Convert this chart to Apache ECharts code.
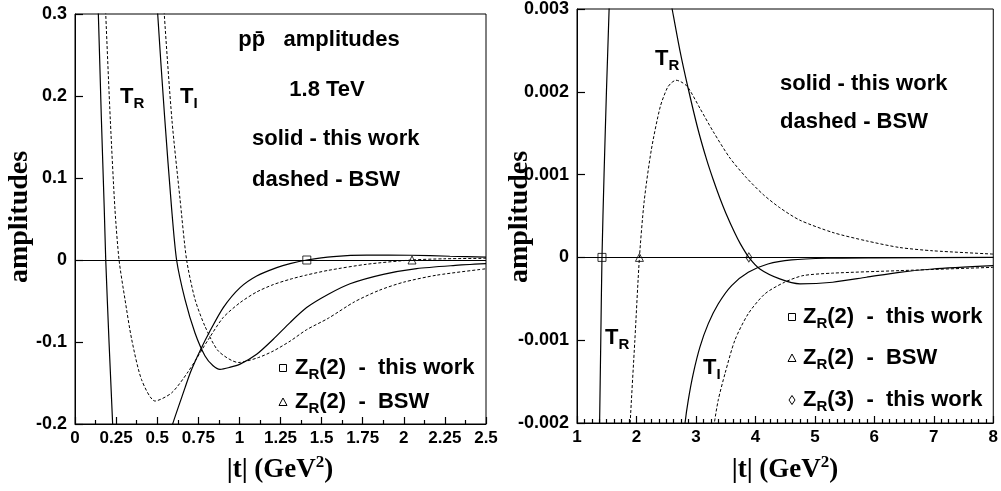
<!DOCTYPE html>
<html>
<head>
<meta charset="utf-8">
<title>pp amplitudes</title>
<script src="https://cdn.jsdelivr.net/npm/echarts@6.0.0/dist/echarts.min.js"></script>
<style>
  html, body { margin: 0; padding: 0; background: #fff; }
  #chart { width: 1001px; height: 491px; }
</style>
</head>
<body>
<div id="chart"></div>
<script>
// left panel, |t| 0 - 2.5
const trThisL1 = [[0.13, 0.36], [0.142, 0.30], [0.16, 0.175], [0.178, 0.062], [0.187, 0], [0.207, -0.1], [0.229, -0.2], [0.238, -0.25]]
const trThisL2 = [[0.56, -0.225], [0.594, -0.2], [0.669, -0.156], [0.70, -0.138], [0.76, -0.111], [0.821, -0.0866], [0.902, -0.058], [1.004, -0.0337], [1.105, -0.0195], [1.227, -0.0093], [1.308, -0.0044], [1.41, 0], [1.571, 0.0042], [1.774, 0.006], [2.04, 0.0058], [2.28, 0.0046], [2.5, 0.0036]]
const tiThisL = [[0.495, 0.34], [0.503, 0.30], [0.545, 0.175], [0.588, 0.062], [0.618, 0], [0.669, -0.048], [0.73, -0.089], [0.791, -0.117], [0.84, -0.129], [0.882, -0.1333], [0.94, -0.131], [1.004, -0.127], [1.105, -0.115], [1.206, -0.0967], [1.308, -0.0763], [1.409, -0.058], [1.541, -0.0418], [1.673, -0.029], [1.875, -0.0175], [2.078, -0.0105], [2.3, -0.0068], [2.5, -0.0045]]
const trBswL = [[0.18, 0.34], [0.187, 0.30], [0.215, 0.17], [0.243, 0.062], [0.268, 0], [0.304, -0.048], [0.345, -0.097], [0.405, -0.146], [0.487, -0.172], [0.588, -0.162], [0.689, -0.136], [0.811, -0.097], [0.902, -0.07], [1.004, -0.052], [1.105, -0.039], [1.206, -0.03], [1.308, -0.0235], [1.409, -0.0183], [1.541, -0.0126], [1.774, -0.0052], [2.048, 0], [2.25, 0.0015], [2.5, 0.002]]
const tiBswL = [[0.535, 0.34], [0.543, 0.30], [0.59, 0.17], [0.639, 0.074], [0.679, 0], [0.73, -0.048], [0.791, -0.081], [0.872, -0.111], [0.994, -0.125], [1.115, -0.119], [1.206, -0.111], [1.308, -0.099], [1.409, -0.085], [1.541, -0.071], [1.7, -0.051], [1.85, -0.037], [2.0, -0.027], [2.2, -0.0185], [2.5, -0.0107]]
const zeroThisL = [[1.41, 0]]
const zeroBswL = [[2.05, 0]]

// right panel, |t| 1 - 8
const trThisR1 = [[1.37, -0.0025], [1.38, -0.002], [1.4, -0.001], [1.42, 0], [1.455, 0.001], [1.495, 0.002], [1.54, 0.003], [1.555, 0.0034]]
const trThisR2 = [[2.55, 0.0032], [2.6, 0.003], [2.73, 0.0025], [2.86, 0.00207], [3.03, 0.00156], [3.18, 0.00118], [3.29, 0.00094], [3.4, 0.00072], [3.5, 0.00054], [3.65, 0.0003], [3.75, 0.00016], [3.89, 0], [4.075, -0.00014], [4.41, -0.00026], [4.75, -0.00032], [5.3, -0.0003], [5.865, -0.00024], [6.42, -0.00018], [6.98, -0.00014], [8, -0.0001]]
const tiThisR = [[2.8, -0.0022], [2.817, -0.002], [2.872, -0.00172], [2.956, -0.0014], [3.068, -0.00108], [3.208, -0.0008], [3.376, -0.00056], [3.6, -0.00034], [3.88, -0.00018], [4.21, -0.00008], [4.61, -0.00003], [5.2, -0.00001], [6, -0.000005], [8, 0]]
const trBswR = [[1.88, -0.0023], [1.894, -0.002], [1.973, -0.001], [2.05, 0], [2.13, 0.00068], [2.25, 0.0013], [2.4, 0.00182], [2.52, 0.00205], [2.59, 0.00211], [2.665, 0.00214], [2.75, 0.00212], [2.86, 0.00206], [3.068, 0.0018], [3.29, 0.00152], [3.572, 0.0012], [3.852, 0.00096], [4.13, 0.00076], [4.41, 0.0006], [4.746, 0.00045], [5.305, 0.0003], [5.865, 0.0002], [6.42, 0.00012], [6.98, 0.00008], [8, 0.00004]]
const tiBswR = [[3.3, -0.0021], [3.31, -0.002], [3.376, -0.00172], [3.49, -0.0014], [3.655, -0.001], [3.88, -0.00068], [4.16, -0.00044], [4.49, -0.0003], [4.8, -0.00022], [5.3, -0.00019], [6.42, -0.00016], [8, -0.00012]]
const zeroThisR2 = [[1.42, 0]]
const zeroBswR = [[2.05, 0]]
const zeroThisR3 = [[3.89, 0]]

const SANS = '"Liberation Sans", Arial, Helvetica, sans-serif'
const SERIF = '"Liberation Serif", "Times New Roman", serif'

function curve(data, gi, dashed) {
  return {
    type: 'line',
    xAxisIndex: gi,
    yAxisIndex: gi,
    data: data,
    symbol: 'none',
    smooth: 0.25,
    clip: true,
    silent: true,
    lineStyle: dashed
      ? { color: '#000', width: 1, type: [3, 2] }
      : { color: '#000', width: 1.2, type: 'solid' },
    z: 3
  }
}

function zeroLine(gi) {
  return {
    type: 'line',
    xAxisIndex: gi,
    yAxisIndex: gi,
    data: [],
    silent: true,
    markLine: {
      silent: true,
      symbol: ['none', 'none'],
      label: { show: false },
      lineStyle: { color: '#000', width: 1, type: 'solid' },
      data: [{ yAxis: 0 }]
    }
  }
}

function marker(data, gi, symbol, size) {
  return {
    type: 'scatter',
    xAxisIndex: gi,
    yAxisIndex: gi,
    data: data,
    symbol: symbol,
    symbolSize: size,
    silent: true,
    itemStyle: { color: 'rgba(0,0,0,0)', borderColor: '#000', borderWidth: 1 },
    z: 5
  }
}

function xAxis(gi, min, max, interval, minorSplit, fmt) {
  return {
    gridIndex: gi,
    type: 'value',
    min: min,
    max: max,
    interval: interval,
    axisLine: { onZero: false, lineStyle: { color: '#000' } },
    axisTick: { show: true, inside: true, length: 7, lineStyle: { color: '#000', width: 1.2 } },
    minorTick: { show: true, splitNumber: minorSplit, length: 4, lineStyle: { color: '#000', width: 1.2 } },
    splitLine: { show: false },
    axisLabel: {
      color: '#000', fontWeight: 'bold', fontSize: 17, fontFamily: SANS, margin: 6,
      formatter: fmt
    }
  }
}

function yAxis(gi, min, max, interval, fmt) {
  return {
    gridIndex: gi,
    type: 'value',
    min: min,
    max: max,
    interval: interval,
    axisLine: { show: true, onZero: false, lineStyle: { color: '#000' } },
    axisTick: { show: true, inside: true, length: 8, lineStyle: { color: '#000', width: 1.2 } },
    splitLine: { show: false },
    axisLabel: {
      color: '#000', fontWeight: 'bold', fontSize: 18, fontFamily: SANS, margin: 8,
      formatter: fmt
    }
  }
}

const rich = {
  m: { fontFamily: SANS, fontWeight: 'bold', fontSize: 22, lineHeight: 28, color: '#000' },
  s: { fontFamily: SANS, fontWeight: 'bold', fontSize: 15, lineHeight: 15, verticalAlign: 'bottom', color: '#000' }
}
const richTitle = {
  m: { fontFamily: SERIF, fontWeight: 'bold', fontSize: 27, lineHeight: 32, color: '#000' },
  p: { fontFamily: SERIF, fontWeight: 'bold', fontSize: 17, lineHeight: 17, verticalAlign: 'top', color: '#000' }
}

function label(x, y, text, align) {
  return {
    type: 'text', x: x, y: y, z: 10, silent: true,
    style: { text: text, rich: rich, align: align || 'left', verticalAlign: 'middle' }
  }
}

function plain(x, y, text, align) {
  return {
    type: 'text', x: x, y: y, z: 10, silent: true,
    style: {
      text: text, align: align || 'left', verticalAlign: 'middle',
      font: 'bold 22px ' + SANS, fill: '#000'
    }
  }
}

function tTitle(x) {
  return {
    type: 'text', x: x, y: 470, z: 10, silent: true,
    style: { text: '{m||t| (GeV}{p|2}{m|)}', rich: richTitle, align: 'center', verticalAlign: 'middle' }
  }
}

function yTitle(x) {
  return {
    type: 'text', x: x, y: 217, z: 10, silent: true, rotation: Math.PI / 2,
    style: {
      text: 'amplitudes', align: 'center', verticalAlign: 'middle',
      font: 'bold 28px ' + SERIF, fill: '#000'
    }
  }
}

function box(x, y) {
  return {
    type: 'rect', z: 10, silent: true,
    shape: { x: x - 3.5, y: y - 3.5, width: 7, height: 7 },
    style: { fill: 'none', stroke: '#000', lineWidth: 1 }
  }
}
function tri(x, y) {
  return {
    type: 'polygon', z: 10, silent: true,
    shape: { points: [[x, y - 4], [x + 4, y + 3.5], [x - 4, y + 3.5]] },
    style: { fill: 'none', stroke: '#000', lineWidth: 1 }
  }
}
function dia(x, y) {
  return {
    type: 'polygon', z: 10, silent: true,
    shape: { points: [[x, y - 4.5], [x + 3, y], [x, y + 4.5], [x - 3, y]] },
    style: { fill: 'none', stroke: '#000', lineWidth: 1 }
  }
}

const fmtNum = function(v) { return String(+v.toFixed(3)) }

const chart = echarts.init(document.getElementById('chart'), null, { renderer: 'canvas' })
chart.setOption({
  backgroundColor: '#fff',
  animation: false,
  grid: [
    { left: 75, top: 14, width: 411, height: 410, show: true, borderColor: '#000', borderWidth: 1 },
    { left: 577, top: 7, width: 417, height: 416, show: true, borderColor: '#000', borderWidth: 1 }
  ],
  xAxis: [
    xAxis(0, 0, 2.5, 0.25, 2, fmtNum),
    xAxis(1, 1, 8, 1, 8, fmtNum)
  ],
  yAxis: [
    yAxis(0, -0.2, 0.3, 0.1, fmtNum),
    yAxis(1, -0.002, 0.003, 0.001, fmtNum)
  ],
  series: [
    zeroLine(0),
    curve(trThisL1, 0, false),
    curve(trThisL2, 0, false),
    curve(tiThisL, 0, false),
    curve(trBswL, 0, true),
    curve(tiBswL, 0, true),
    marker(zeroThisL, 0, 'rect', 8),
    marker(zeroBswL, 0, 'triangle', 8),
    zeroLine(1),
    curve(trThisR1, 1, false),
    curve(trThisR2, 1, false),
    curve(tiThisR, 1, false),
    curve(trBswR, 1, true),
    curve(tiBswR, 1, true),
    marker(zeroThisR2, 1, 'rect', 8),
    marker(zeroBswR, 1, 'triangle', 8),
    marker(zeroThisR3, 1, 'diamond', [6, 9])
  ],
  graphic: [
    // left panel
    plain(319, 40, 'pp\u0304   amplitudes', 'center'),
    plain(327, 90, '1.8 TeV', 'center'),
    plain(252, 139, 'solid - this work'),
    plain(252, 180, 'dashed - BSW'),
    label(120, 97, '{m|T}{s|R}'),
    label(180, 97, '{m|T}{s|I}'),
    box(283, 368),
    label(295, 368, '{m|Z}{s|R}{m|(2)  -  this work}'),
    tri(283, 402),
    label(295, 402, '{m|Z}{s|R}{m|(2)  -  BSW}'),
    tTitle(280),
    yTitle(20),
    // right panel
    plain(780, 84, 'solid - this work'),
    plain(780, 122, 'dashed - BSW'),
    label(655, 59, '{m|T}{s|R}'),
    label(605, 338, '{m|T}{s|R}'),
    label(703, 368, '{m|T}{s|I}'),
    box(792, 317),
    label(803, 317, '{m|Z}{s|R}{m|(2)  -  this work}'),
    tri(792, 358),
    label(803, 358, '{m|Z}{s|R}{m|(2)  -  BSW}'),
    dia(792, 400),
    label(803, 400, '{m|Z}{s|R}{m|(3)  -  this work}'),
    tTitle(785),
    yTitle(520)
  ]
})
</script>
</body>
</html>
